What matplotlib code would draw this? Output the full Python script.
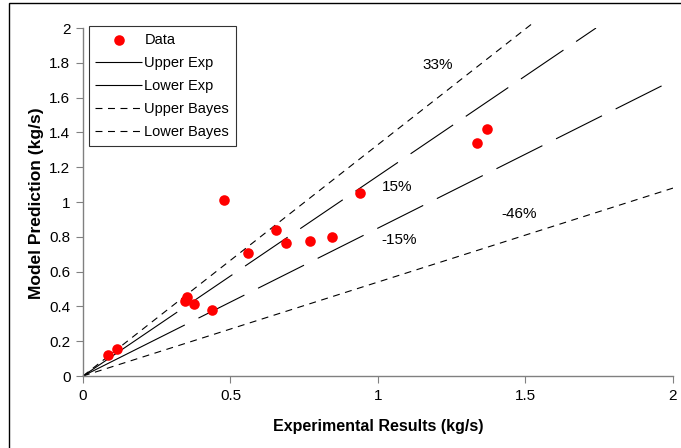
import matplotlib
matplotlib.use("Agg")
import matplotlib.pyplot as plt
from matplotlib.patches import Rectangle
import numpy as np

plt.rcParams['font.family'] = ['Liberation Sans', 'DejaVu Sans']
plt.rcParams['lines.scale_dashes'] = False

# Data
exp_results = [0.086, 0.116, 0.347, 0.351, 0.377, 0.438, 0.479, 0.560, 0.655,
                0.689, 0.768, 0.845, 0.940, 1.334, 1.368]
model_pred = [0.121, 0.153, 0.431, 0.454, 0.416, 0.377, 1.013, 0.707, 0.841,
              0.764, 0.776, 0.801, 1.053, 1.341, 1.420]

# Bound lines (x endpoints and slopes)
upper_exp_x = [0, 1.739]
upper_exp_slope = 1.15
lower_exp_x = [0, 2.0]
lower_exp_slope = 0.85
upper_bayes_x = [0, 1.53]
upper_bayes_slope = 1.33
lower_bayes_x = [0, 2.0]
lower_bayes_slope = 0.54

annotations = [("33%", 1.203, 1.787), ("15%", 1.065, 1.088),
               ("-15%", 1.072, 0.782), ("-46%", 1.479, 0.931)]

x_ticks = [0, 0.5, 1, 1.5, 2]
y_ticks = [0, 0.2, 0.4, 0.6, 0.8, 1, 1.2, 1.4, 1.6, 1.8, 2]
x_tick_labels = ['0', '0.5', '1', '1.5', '2']
y_tick_labels = ['0', '0.2', '0.4', '0.6', '0.8', '1', '1.2', '1.4', '1.6', '1.8', '2']

# Long-dash style (Excel-like: long first dash, then regular dashes)
long_dash = [82.0, 11.0] + [37.0, 11.0] * 14
short_dash = (5, 4)

fig = plt.figure(figsize=(6.81, 4.48), dpi=100)
ax = fig.add_axes([83/681, 1-376/448, 590/681, 348/448])

ax.scatter(exp_results, model_pred, s=58, color='#ff0000', zorder=5, label='Data', linewidths=0)

ux = np.array(upper_exp_x)
ax.plot(ux, upper_exp_slope*ux, color='black', lw=0.8, dashes=long_dash, label='Upper Exp')
lx = np.array(lower_exp_x)
ax.plot(lx, lower_exp_slope*lx, color='black', lw=0.8, dashes=long_dash, label='Lower Exp')
ubx = np.array(upper_bayes_x)
ax.plot(ubx, upper_bayes_slope*ubx, color='black', lw=0.8, dashes=short_dash, label='Upper Bayes', clip_on=False)
lbx = np.array(lower_bayes_x)
ax.plot(lbx, lower_bayes_slope*lbx, color='black', lw=0.8, dashes=short_dash, label='Lower Bayes')

for txt, tx, ty in annotations:
    ax.text(tx, ty, txt, fontsize=11, ha='center', va='center')

ax.set_xlim(0, 2)
ax.set_ylim(0, 2)
ax.set_xticks(x_ticks)
ax.set_xticklabels(x_tick_labels)
ax.set_yticks(y_ticks)
ax.set_yticklabels(y_tick_labels)
ax.tick_params(direction='out', length=5, color='#808080', labelsize=11, pad=4)
for s in ['top', 'right']:
    ax.spines[s].set_visible(False)
for s in ['left', 'bottom']:
    ax.spines[s].set_color('#808080')
    ax.spines[s].set_linewidth(1.0)

fig.text(378/681, 1-426/448, 'Experimental Results (kg/s)', fontsize=11.5, fontweight='bold',
         ha='center', va='center')
fig.text(37/681, 1-203/448, 'Model Prediction (kg/s)', fontsize=12.5, fontweight='bold',
         ha='center', va='center', rotation=90)

leg = ax.legend(loc='upper left', bbox_to_anchor=(0.01, 1.005), frameon=True, fancybox=False,
                fontsize=10.5, handlelength=3.2, handletextpad=0.15, labelspacing=0.62,
                borderpad=0.45, borderaxespad=0)
leg.get_frame().set_edgecolor('black')
leg.get_frame().set_linewidth(0.8)

fig.patches.append(Rectangle((9/681, -0.1), 1.2, 1-3/448+0.1, transform=fig.transFigure,
                             fill=False, edgecolor='black', lw=1.0))

fig.savefig('out.png', dpi=100)
